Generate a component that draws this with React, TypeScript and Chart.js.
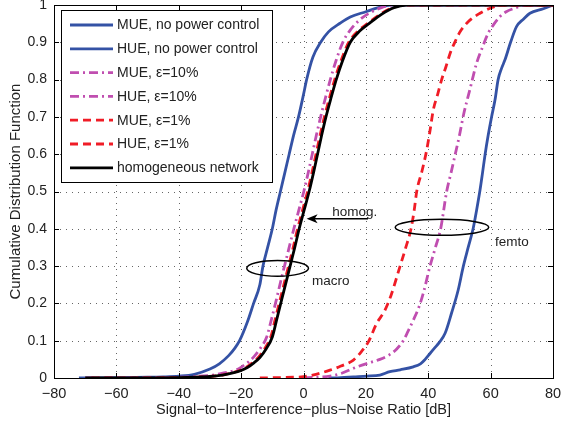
import React, { useEffect, useRef } from 'react';
import { Chart, registerables } from 'chart.js';

Chart.register(...registerables);

const FONT = '"Liberation Sans", Arial, Helvetica, sans-serif';

// ---------- axes ----------
const xTicks = [-80, -60, -40, -20, 0, 20, 40, 60, 80];
const xTickLabels = ['−80', '−60', '−40', '−20', '0', '20', '40', '60', '80'];
const yTicks = [0, 0.1, 0.2, 0.3, 0.4, 0.5, 0.6, 0.7, 0.8, 0.9, 1];
const yTickLabels = ['0', '0.1', '0.2', '0.3', '0.4', '0.5', '0.6', '0.7', '0.8', '0.9', '1'];
const xTitle = 'Signal−to−Interference−plus−Noise Ratio [dB]';
const yTitle = 'Cumulative Distribution Function';

// ---------- series ----------
const seriesLabels = [
  'MUE, no power control',
  'HUE, no power control',
  'MUE, ε=10%',
  'HUE, ε=10%',
  'MUE, ε=1%',
  'HUE, ε=1%',
  'homogeneous network',
];

const mueNoPcX = [-72, -60, -50, -45, -40, -35, -30, -27, -24, -22, -20.5, -18, -16, -14, -13, -11.5, -10, -8.8, -7.4, -6, -4.6, -3.2, -1.6, 0, 1, 3, 5.5, 8, 11.7, 15, 20, 24, 28, 80];
const mueNoPcY = [0, 0.001, 0.002, 0.003, 0.005, 0.01, 0.024, 0.038, 0.06, 0.08, 0.1, 0.15, 0.2, 0.25, 0.3, 0.35, 0.4, 0.45, 0.5, 0.55, 0.6, 0.65, 0.7, 0.76, 0.8, 0.86, 0.9, 0.928, 0.951, 0.968, 0.982, 0.993, 1, 1];

const hueNoPcX = [8, 12, 16, 20.3, 24.5, 27.7, 31, 35.2, 37.5, 39, 40.5, 42, 43.5, 45.4, 47.5, 49.6, 51.2, 52.8, 54.4, 55.5, 56.6, 57.4, 58.2, 59.2, 60.3, 61.4, 62.4, 63.5, 64.6, 66.4, 68.3, 70.5, 72.6, 76.9, 80];
const hueNoPcY = [0, 0.001, 0.003, 0.005, 0.008, 0.017, 0.022, 0.03, 0.038, 0.05, 0.065, 0.08, 0.095, 0.12, 0.175, 0.236, 0.298, 0.35, 0.401, 0.45, 0.504, 0.55, 0.598, 0.65, 0.7, 0.745, 0.8, 0.83, 0.853, 0.9, 0.942, 0.962, 0.978, 0.99, 1];

const mue10X = [-70, -50, -40, -35, -30, -27, -23.5, -21.5, -19.8, -17.8, -15.8, -13.8, -11.8, -10.2, -8.7, -7.2, -6.1, -4.6, -3.1, -1.5, 0.1, 1.5, 2.8, 4.1, 5.5, 7, 8.6, 10.4, 12.6, 15.2, 18, 21.5, 25, 29, 80];
const mue10Y = [0, 0.0008, 0.002, 0.004, 0.007, 0.011, 0.017, 0.022, 0.03, 0.042, 0.058, 0.08, 0.11, 0.16, 0.21, 0.263, 0.3, 0.35, 0.4, 0.45, 0.5, 0.55, 0.6, 0.65, 0.7, 0.75, 0.8, 0.85, 0.9, 0.935, 0.96, 0.98, 0.993, 1, 1];

const hue10X = [0, 4, 8.5, 12, 16, 20, 24.5, 27.5, 29.9, 32, 33.5, 35.2, 37, 38.5, 40.5, 42.3, 44, 45.9, 47.3, 48.6, 50, 51.3, 53.4, 55.5, 57.3, 59.2, 61, 63, 65, 67.2, 71.5, 80];
const hue10Y = [0, 0.002, 0.005, 0.012, 0.026, 0.038, 0.05, 0.062, 0.078, 0.1, 0.125, 0.155, 0.19, 0.23, 0.298, 0.35, 0.401, 0.5, 0.55, 0.598, 0.65, 0.705, 0.775, 0.844, 0.885, 0.924, 0.948, 0.969, 0.982, 0.99, 1, 1];

const mue1X = [-68, -50, -40, -35, -30, -26, -22.5, -20.5, -18.5, -16.5, -14.5, -12.5, -10.5, -9, -7.5, -5.9, -4.8, -3.3, -1.9, -0.3, 1.3, 2.7, 4, 5.3, 6.7, 8.3, 10, 12, 14.5, 17.5, 20.5, 24.5, 28.5, 32.5, 80];
const mue1Y = [0, 0.0005, 0.001, 0.002, 0.004, 0.008, 0.015, 0.02, 0.028, 0.04, 0.055, 0.078, 0.11, 0.16, 0.21, 0.263, 0.3, 0.35, 0.4, 0.45, 0.5, 0.55, 0.6, 0.65, 0.7, 0.75, 0.8, 0.85, 0.9, 0.93, 0.95, 0.975, 0.993, 1, 1];

const hue1X = [-14, -8, -3, 0, 4, 8.5, 12, 16, 18.5, 20.8, 23.5, 26, 28, 30.9, 32.8, 34.5, 35.5, 36.3, 38, 39.5, 40.6, 41.6, 43, 44.3, 45.7, 47, 48.5, 50.2, 52.8, 56.6, 60, 64, 80];
const hue1Y = [0, 0.001, 0.002, 0.0035, 0.01, 0.021, 0.032, 0.048, 0.07, 0.097, 0.147, 0.18, 0.22, 0.298, 0.35, 0.401, 0.45, 0.5, 0.555, 0.611, 0.665, 0.718, 0.76, 0.8, 0.835, 0.87, 0.9, 0.928, 0.955, 0.978, 0.992, 1, 1];

const homogX = [-70, -50, -40, -35, -30, -26, -22, -20, -18, -16, -14, -12, -10, -8.5, -7, -5.4, -4.3, -2.8, -1.4, 0.2, 1.8, 3.2, 4.5, 5.8, 7.2, 8.8, 10.5, 12.5, 15, 18, 21, 25, 29, 33, 80];
const homogY = [0, 0.0005, 0.001, 0.002, 0.004, 0.008, 0.015, 0.02, 0.028, 0.04, 0.055, 0.078, 0.11, 0.16, 0.21, 0.263, 0.3, 0.35, 0.4, 0.45, 0.5, 0.55, 0.6, 0.65, 0.7, 0.75, 0.8, 0.85, 0.9, 0.93, 0.95, 0.975, 0.993, 1, 1];

// ---------- annotations (data units) ----------
const macroEllipse = { cx: -8.3, cy: 0.294, rx: 9.9, ry: 0.021 };
const femtoEllipse = { cx: 44.4, cy: 0.404, rx: 15, ry: 0.0215 };
const homogArrow = { fromX: 20.7, toX: 1.0, y: 0.427 };
const textNotes = [
  { text: 'homog.', x: 9.2, y: 0.444 },
  { text: 'macro', x: 2.7, y: 0.26 },
  { text: 'femto', x: 61.4, y: 0.365 },
];

const BLUE = 'rgb(52,82,165)';
const PINK = 'rgb(192,78,176)';
const RED = 'rgb(240,28,38)';
const BLACK = '#000';

const toPts = (xs: number[], ys: number[]) => xs.map((x, i) => ({ x, y: ys[i] }));

const decorPlugin = {
  id: 'decor',
  beforeDatasetsDraw(chart: any) {
    const { ctx, chartArea: a, scales } = chart;
    const x = scales.x, y = scales.y;
    ctx.save();
    ctx.strokeStyle = 'rgba(0,0,0,0.6)';
    ctx.lineWidth = 1;
    ctx.setLineDash([1, 5]);
    for (const v of xTicks) {
      if (v === xTicks[0] || v === xTicks[xTicks.length - 1]) continue;
      const px = Math.round(x.getPixelForValue(v)) + 0.5;
      ctx.beginPath(); ctx.moveTo(px, a.top); ctx.lineTo(px, a.bottom); ctx.stroke();
    }
    for (const v of yTicks) {
      if (v === yTicks[0] || v === yTicks[yTicks.length - 1]) continue;
      const py = Math.round(y.getPixelForValue(v)) + 0.5;
      ctx.beginPath(); ctx.moveTo(a.left, py); ctx.lineTo(a.right, py); ctx.stroke();
    }
    ctx.restore();
  },
  afterDatasetsDraw(chart: any) {
    const { ctx, chartArea: a, scales } = chart;
    const x = scales.x, y = scales.y;
    ctx.save();
    // box
    ctx.setLineDash([]);
    ctx.strokeStyle = '#000';
    ctx.lineWidth = 1;
    ctx.strokeRect(Math.round(a.left) + 0.5, Math.round(a.top) + 0.5, Math.round(a.right - a.left), Math.round(a.bottom - a.top));
    // inward ticks
    const tl = 5;
    ctx.beginPath();
    for (const v of xTicks) {
      const px = Math.round(x.getPixelForValue(v)) + 0.5;
      ctx.moveTo(px, a.bottom); ctx.lineTo(px, a.bottom - tl);
      ctx.moveTo(px, a.top); ctx.lineTo(px, a.top + tl);
    }
    for (const v of yTicks) {
      const py = Math.round(y.getPixelForValue(v)) + 0.5;
      ctx.moveTo(a.left, py); ctx.lineTo(a.left + tl, py);
      ctx.moveTo(a.right, py); ctx.lineTo(a.right - tl, py);
    }
    ctx.stroke();

    // ellipses
    ctx.lineWidth = 1.5;
    for (const e of [macroEllipse, femtoEllipse]) {
      const cx = x.getPixelForValue(e.cx), cy = y.getPixelForValue(e.cy);
      const rx = Math.abs(x.getPixelForValue(e.cx + e.rx) - cx);
      const ry = Math.abs(y.getPixelForValue(e.cy + e.ry) - cy);
      ctx.beginPath(); ctx.ellipse(cx, cy, rx, ry, 0, 0, Math.PI * 2); ctx.stroke();
    }
    // arrow
    const ax0 = x.getPixelForValue(homogArrow.fromX), ax1 = x.getPixelForValue(homogArrow.toX);
    const ay = y.getPixelForValue(homogArrow.y);
    ctx.lineWidth = 1.3;
    ctx.beginPath(); ctx.moveTo(ax0, ay); ctx.lineTo(ax1 + 6, ay); ctx.stroke();
    ctx.fillStyle = '#000';
    ctx.beginPath();
    ctx.moveTo(ax1, ay);
    ctx.lineTo(ax1 + 11, ay - 4.5);
    ctx.lineTo(ax1 + 8, ay);
    ctx.lineTo(ax1 + 11, ay + 4.5);
    ctx.closePath(); ctx.fill();
    // texts
    ctx.font = `13.5px ${FONT}`;
    ctx.fillStyle = '#222';
    ctx.textAlign = 'left';
    ctx.textBaseline = 'middle';
    for (const t of textNotes) {
      ctx.fillText(t.text, x.getPixelForValue(t.x), y.getPixelForValue(t.y));
    }

    // legend
    const L = { left: 61.5, top: 10.5, right: 272.5, bottom: 182.5, row0: 25, step: 23.8, lx0: 70, lx1: 113, tx: 117 };
    ctx.fillStyle = '#fff';
    ctx.fillRect(L.left, L.top, L.right - L.left, L.bottom - L.top);
    ctx.strokeStyle = '#000';
    ctx.lineWidth = 1;
    ctx.strokeRect(L.left, L.top, L.right - L.left, L.bottom - L.top);
    ctx.font = `14px ${FONT}`;
    ctx.textBaseline = 'middle';
    chart.data.datasets.forEach((ds: any, i: number) => {
      const ry = L.row0 + i * L.step;
      ctx.save();
      ctx.strokeStyle = ds.borderColor;
      ctx.lineWidth = ds.borderWidth;
      ctx.setLineDash(ds.borderDash || []);
      ctx.beginPath(); ctx.moveTo(L.lx0, ry); ctx.lineTo(L.lx1, ry); ctx.stroke();
      ctx.restore();
      ctx.fillStyle = '#222';
      ctx.fillText(ds.label, L.tx, ry + 0.5);
    });
    ctx.restore();
  },
};

export default function App() {
  const ref = useRef<HTMLCanvasElement | null>(null);
  useEffect(() => {
    document.body.style.margin = '0';
    const canvas = ref.current!;
    const mk = (i: number, xs: number[], ys: number[], color: string, dash: number[], order: number) => ({
      label: seriesLabels[i],
      data: toPts(xs, ys),
      borderColor: color,
      backgroundColor: color,
      borderWidth: 2.8,
      borderDash: dash,
      pointRadius: 0,
      fill: false,
      cubicInterpolationMode: 'monotone' as const,
      order,
    });
    const chart = new Chart(canvas, {
      type: 'line',
      data: {
        datasets: [
          mk(0, mueNoPcX, mueNoPcY, BLUE, [], 6),
          mk(1, hueNoPcX, hueNoPcY, BLUE, [], 5),
          mk(2, mue10X, mue10Y, PINK, [9, 4, 2, 4], 4),
          mk(3, hue10X, hue10Y, PINK, [9, 4, 2, 4], 3),
          mk(4, mue1X, mue1Y, RED, [8, 5], 2),
          mk(5, hue1X, hue1Y, RED, [8, 5], 1),
          mk(6, homogX, homogY, BLACK, [], 0),
        ],
      },
      options: {
        animation: false,
        responsive: false,
        devicePixelRatio: 1,
        layout: { padding: { top: 5, right: 8, left: 0, bottom: 0 } },
        plugins: { legend: { display: false }, tooltip: { enabled: false } },
        scales: {
          x: {
            type: 'linear',
            min: -80,
            max: 80,
            afterBuildTicks: (s: any) => { s.ticks = xTicks.map((v) => ({ value: v })); },
            afterFit: (s: any) => { s.height = 45; s.paddingLeft = 0; s.paddingRight = 0; },
            ticks: {
              autoSkip: false,
              maxRotation: 0,
              padding: 7,
              color: '#222',
              font: { family: FONT, size: 14.5 },
              callback: (_v: any, i: number) => xTickLabels[i],
            },
            grid: { display: false, drawTicks: false },
            border: { display: false },
            title: { display: true, text: xTitle, color: '#222', font: { family: FONT, size: 14.5 }, padding: { top: 0, bottom: 4 } },
          },
          y: {
            type: 'linear',
            min: 0,
            max: 1,
            afterBuildTicks: (s: any) => { s.ticks = yTicks.map((v) => ({ value: v })); },
            afterFit: (s: any) => { s.width = 54; s.paddingTop = 0; s.paddingBottom = 0; },
            ticks: {
              autoSkip: false,
              padding: 7,
              color: '#222',
              font: { family: FONT, size: 14 },
              callback: (_v: any, i: number) => yTickLabels[i],
            },
            grid: { display: false, drawTicks: false },
            border: { display: false },
            title: { display: true, text: yTitle, color: '#222', font: { family: FONT, size: 15 }, padding: { top: 7, bottom: 0 } },
          },
        },
      },
      plugins: [decorPlugin],
    });
    return () => chart.destroy();
  }, []);
  return (
    <div style={{ width: 561, height: 423 }}>
      <canvas ref={ref} width={561} height={423} style={{ display: 'block' }} />
    </div>
  );
}
